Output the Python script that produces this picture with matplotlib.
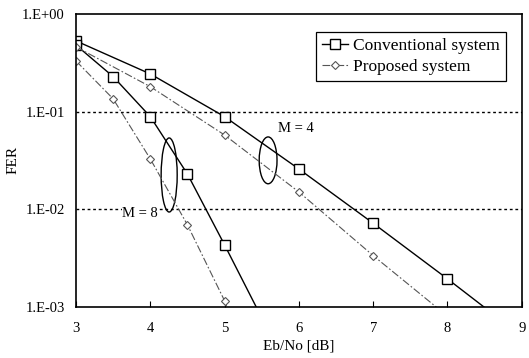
import matplotlib.pyplot as plt
from matplotlib.patches import Ellipse

plt.rcParams['font.family'] = ['Liberation Serif', 'DejaVu Serif']

# FER curves (last point of each lies below the axis)
ebno_m4_conv = [3, 4, 5, 6, 7, 8, 9]
fer_m4_conv = [0.53, 0.243, 0.0887, 0.0258, 0.00717, 0.00193, 0.0005]
ebno_m8_conv = [3, 3.5, 4, 4.5, 5, 5.5]
fer_m8_conv = [0.48, 0.228, 0.0887, 0.0229, 0.0043, 0.00077]
ebno_m4_prop = [3, 4, 5, 6, 7, 8]
fer_m4_prop = [0.46, 0.18, 0.0575, 0.015, 0.00334, 0.0008]
ebno_m8_prop = [3, 3.5, 4, 4.5, 5, 5.5]
fer_m8_prop = [0.33, 0.135, 0.0327, 0.0069, 0.00115, 0.0001]

x_ticks = [3, 4, 5, 6, 7, 8, 9]
y_ticks = [1e-3, 1e-2, 1e-1, 1e0]
y_labels = ["1.E-03", "1.E-02", "1.E-01", "1.E+00"]

fig = plt.figure(figsize=(5.29, 3.58), dpi=100)
ax = fig.add_axes([0.1437, 0.1433, 0.8425, 0.8176])

conv = dict(color='black', lw=1.0, marker='s', ms=7, mfc='white', mec='black', mew=1.0)
prop = dict(color='#555555', lw=0.8, ls=(0, (7, 2, 1.5, 2)), marker='D', ms=4.5,
            mfc='white', mec='#555555', mew=0.8)

ax.plot(ebno_m4_conv, fer_m4_conv, label='Conventional system', **conv)
ax.plot(ebno_m8_conv, fer_m8_conv, **conv)
ax.plot(ebno_m4_prop, fer_m4_prop, label='Proposed system', **prop)
ax.plot(ebno_m8_prop, fer_m8_prop, **prop)

ax.set_yscale('log')
ax.set_xlim(3, 9)
ax.set_ylim(1e-3, 1)
ax.set_xticks(x_ticks)
ax.set_yticks(y_ticks)
ax.set_yticklabels(y_labels)
ax.minorticks_off()
ax.tick_params(axis='x', direction='in', length=4, pad=11, labelsize=10.5)
ax.tick_params(axis='y', length=0, pad=8, labelsize=10.5)

for yv in [1e-1, 1e-2]:
    ax.axhline(yv, color='black', lw=1.0, ls=(0, (2, 2)), zorder=0)

for sp in ax.spines.values():
    sp.set_linewidth(1.2)

ax.set_xlabel('Eb/No [dB]', fontsize=11, labelpad=3)
ax.set_ylabel('FER', fontsize=11)
ax.yaxis.set_label_coords(-0.126, 0.5)

# group ellipses and labels
ax.add_patch(Ellipse((0.209, 0.45), 0.036, 0.253, transform=ax.transAxes,
                     fill=False, ec='black', lw=1.0))
ax.add_patch(Ellipse((0.431, 0.5), 0.04, 0.16, transform=ax.transAxes,
                     fill=False, ec='black', lw=1.0))
ax.text(0.144, 0.32, 'M = 8', transform=ax.transAxes, ha='center', va='center',
        fontsize=10.5, bbox=dict(fc='white', ec='none', pad=0))
ax.text(0.494, 0.61, 'M = 4', transform=ax.transAxes, ha='center', va='center',
        fontsize=10.5)

leg = ax.legend(loc='upper right', bbox_to_anchor=(0.965, 0.94), borderaxespad=0,
                fontsize=12.5, frameon=True, fancybox=False, edgecolor='black',
                framealpha=1, handlelength=1.5, handletextpad=0.3, borderpad=0.35,
                labelspacing=0.3)
leg.get_frame().set_linewidth(0.9)

fig.savefig('out.png', dpi=100)
